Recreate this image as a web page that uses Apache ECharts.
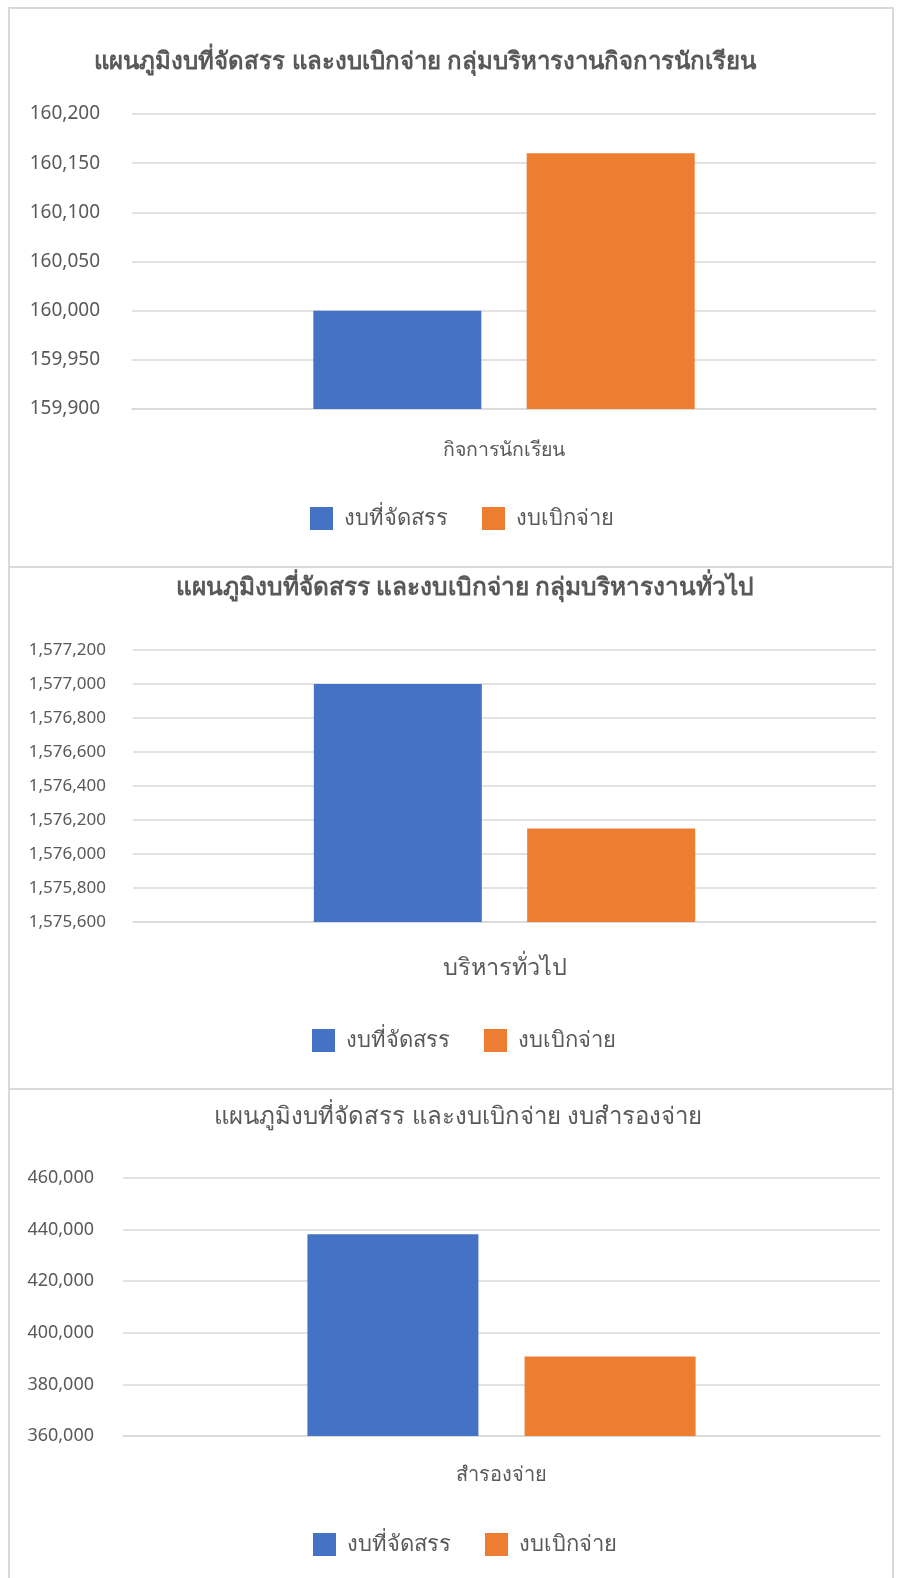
<!DOCTYPE html>
<html>
<head>
<meta charset="utf-8">
<script src="https://cdn.jsdelivr.net/npm/echarts@6/dist/echarts.min.js"></script>
<style>
  body { margin: 0; background: #fff; width: 898px; height: 1578px; position: relative; overflow: hidden; }
  .panel { position: absolute; left: 8px; width: 886px; border: 2px solid #d9d9d9; border-bottom: none; box-sizing: border-box; }
</style>
</head>
<body>
<div id="c1" class="panel" style="top:7px;height:560px"></div>
<div id="c2" class="panel" style="top:566px;height:523px"></div>
<div id="c3" class="panel" style="top:1088px;height:492px"></div>
<script>
// ข้อมูลงบประมาณ
const seriesNames = ['งบที่จัดสรร', 'งบเบิกจ่าย'];

const titles = [
  'แผนภูมิงบที่จัดสรร และงบเบิกจ่าย กลุ่มบริหารงานกิจการนักเรียน',
  'แผนภูมิงบที่จัดสรร และงบเบิกจ่าย กลุ่มบริหารงานทั่วไป',
  'แผนภูมิงบที่จัดสรร และงบเบิกจ่าย งบสำรองจ่าย'
];

const categories1 = ['กิจการนักเรียน'];
const allocated1 = [160000];
const spent1 = [160160];
const yTicks1 = [159900, 160200, 50]; // min, max, step

const categories2 = ['บริหารทั่วไป'];
const allocated2 = [1577000];
const spent2 = [1576150];
const yTicks2 = [1575600, 1577200, 200];

const categories3 = ['สำรองจ่าย'];
const allocated3 = [438200];
const spent3 = [390800];
const yTicks3 = [360000, 460000, 20000];

const FONT = '"Noto Sans", "DejaVu Sans", sans-serif';
const TXT = '#595959';

function makeOption(cfg) {
  return {
    animation: false,
    textStyle: { fontFamily: FONT },
    title: {
      text: cfg.title,
      left: cfg.titleX,
      top: cfg.titleY,
      padding: 0,
      textAlign: 'center',
      textStyle: { fontFamily: FONT, fontSize: cfg.titleFont, fontWeight: cfg.bold ? 'bold' : 'normal', color: TXT }
    },
    legend: {
      data: seriesNames,
      left: cfg.legendX,
      top: cfg.legendY,
      padding: 0,
      itemWidth: 23,
      itemHeight: 23,
      itemGap: 34,
      icon: 'rect',
      textStyle: { fontFamily: FONT, fontSize: 22, color: TXT, padding: [0, 0, 0, 6] }
    },
    grid: { left: cfg.grid[0], top: cfg.grid[1], width: cfg.grid[2], height: cfg.grid[3], containLabel: false },
    xAxis: {
      type: 'category',
      data: cfg.categories,
      axisLine: { lineStyle: { color: '#d9d9d9', width: 1.5 } },
      axisTick: { show: false },
      axisLabel: { margin: cfg.catMargin, fontSize: cfg.catFont, color: TXT, fontFamily: FONT }
    },
    yAxis: {
      type: 'value',
      min: cfg.ticks[0],
      max: cfg.ticks[1],
      interval: cfg.ticks[2],
      axisLine: { show: false },
      axisTick: { show: false },
      splitLine: { lineStyle: { color: '#d9d9d9', width: 1.5 } },
      axisLabel: {
        margin: cfg.yMargin,
        fontSize: cfg.yFont,
        color: TXT,
        fontFamily: FONT,
        formatter: v => v.toLocaleString('en-US')
      }
    },
    series: [
      { name: seriesNames[0], type: 'bar', data: cfg.a, barWidth: cfg.barW, barGap: '27%', itemStyle: { color: '#4472C4' } },
      { name: seriesNames[1], type: 'bar', data: cfg.b, barWidth: cfg.barW, itemStyle: { color: '#ED7D31' } }
    ]
  };
}

const charts = [
  { id: 'c1', title: titles[0], bold: true, titleFont: 24, titleX: 415, titleY: 41, legendX: 300, legendY: 498,
    grid: [122, 105, 744, 295], categories: categories1, a: allocated1, b: spent1, ticks: yTicks1,
    catMargin: 31, catFont: 19.5, yMargin: 32, yFont: 19, barW: 168 },
  { id: 'c2', title: titles[1], bold: true, titleFont: 24.5, titleX: 455, titleY: 8, legendX: 302, legendY: 461,
    grid: [123, 82, 743, 272], categories: categories2, a: allocated2, b: spent2, ticks: yTicks2,
    catMargin: 34, catFont: 23.5, yMargin: 27, yFont: 17, barW: 168 },
  { id: 'c3', title: titles[2], bold: false, titleFont: 24, titleX: 448, titleY: 15, legendX: 303, legendY: 443,
    grid: [113, 88, 757, 258], categories: categories3, a: allocated3, b: spent3, ticks: yTicks3,
    catMargin: 29, catFont: 20, yMargin: 29, yFont: 18, barW: 171 }
];

charts.forEach(cfg => {
  const dom = document.getElementById(cfg.id);
  const chart = echarts.init(dom);
  chart.setOption(makeOption(cfg));
});
</script>
</body>
</html>
